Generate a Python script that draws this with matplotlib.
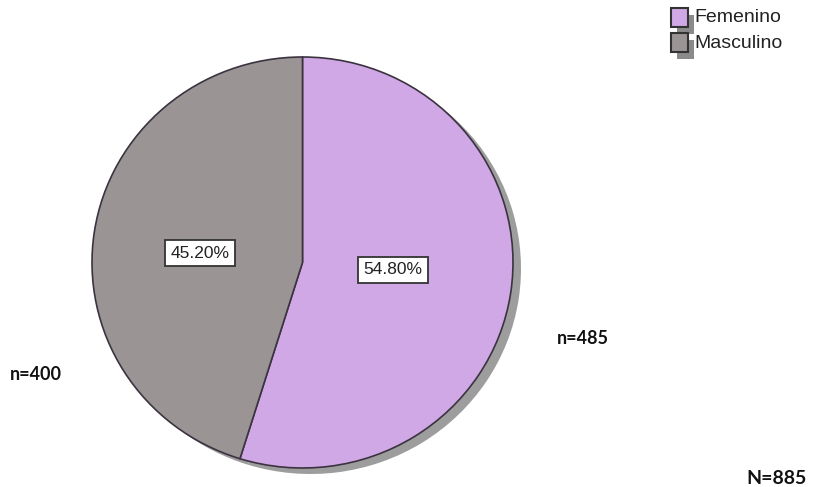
import matplotlib.pyplot as plt
from matplotlib.patches import Rectangle

plt.rcParams['font.family'] = ['Liberation Sans Narrow', 'Liberation Sans', 'DejaVu Sans']

categorias = ["Femenino", "Masculino"]
conteos = [485, 400]
colores = ["#cfa8e5", "#9a9494"]
total = sum(conteos)

W, H = 814, 487
fig = plt.figure(figsize=(W / 100, H / 100), dpi=100)

# pie occupies an ellipse slightly wider than tall
x0, x1, y0, y1 = 92, 513, 57, 468
ax = fig.add_axes([x0 / W, (H - y1) / H, (x1 - x0) / W, (y1 - y0) / H])
rx, ry = (x1 - x0) / 2, (y1 - y0) / 2

# drop shadow under the pie
ax.pie(conteos, colors=["#8c8c8c"] * 2, startangle=90, counterclock=False,
       center=(8 / rx, -6 / ry), radius=1,
       wedgeprops=dict(linewidth=0, alpha=0.85))

wedges, textos, pcts = ax.pie(
    conteos, colors=colores, startangle=90, counterclock=False,
    radius=1, autopct=lambda p: f"{p:.2f}%", pctdistance=0.47,
    wedgeprops=dict(edgecolor="#3b3340", linewidth=1.2),
    textprops=dict(fontsize=12.5, color="#222222"))
# label boxes sit a bit off the wedge bisectors
for t, pos in zip(pcts, [(0.43, -0.036), (-0.487, 0.046)]):
    t.set_position(pos)
    t.set_bbox(dict(facecolor="white", edgecolor="#333333", linewidth=1.3,
                    boxstyle="square,pad=0.3"))
ax.set_aspect("auto")
ax.set_xlim(-1, 1)
ax.set_ylim(-1, 1)
ax.axis("off")

# overlay in pixel coordinates for legend and annotations
ov = fig.add_axes([0, 0, 1, 1], zorder=5)
ov.set_xlim(0, W)
ov.set_ylim(H, 0)
ov.axis("off")

leg_y = [8, 33]
for cat, col, y in zip(categorias, colores, leg_y):
    ov.add_patch(Rectangle((677, y + 7), 17, 19, facecolor="#8a8a8a",
                           edgecolor="none", zorder=1))
for cat, col, y in zip(categorias, colores, leg_y):
    ov.add_patch(Rectangle((671, y), 17, 19, facecolor=col,
                           edgecolor="#333333", linewidth=1.5, zorder=2))
    ov.text(694, y + 10, cat, fontsize=14, va="center", ha="left",
            color="#222222", zorder=3)

bold = dict(family=["Lato", "DejaVu Sans"], fontweight="bold", color="#111111")
ov.text(583, 338, f"n={conteos[0]}", fontsize=13, ha="center", va="center", **bold)
ov.text(36, 374, f"n={conteos[1]}", fontsize=13, ha="center", va="center", **bold)
ov.text(777, 478, f"N={total}", fontsize=14, ha="center", va="center", **bold)

fig.savefig("out.png", dpi=100)
